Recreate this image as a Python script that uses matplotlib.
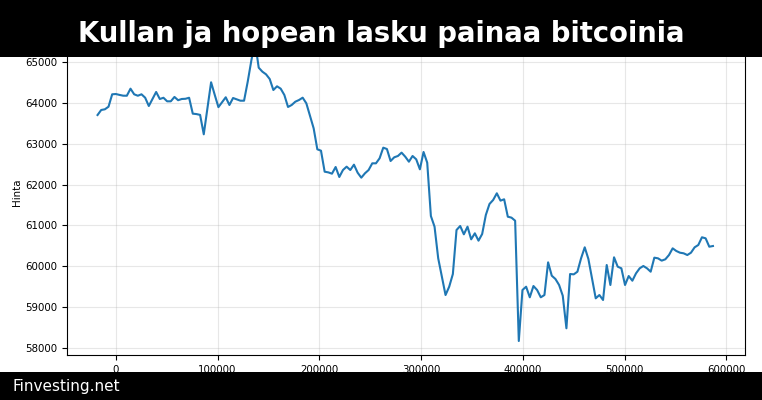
import matplotlib
matplotlib.use("Agg")
import matplotlib.pyplot as plt
from matplotlib.patches import Rectangle
import numpy as np

title = "Kullan ja hopean lasku painaa bitcoinia"
footer = "Finvesting.net"
ylabel = "Hinta"

x_start = -18000
x_step = 3600

prices = [
    63707, 63830, 63847, 63911, 64215, 64222, 64200, 64181, 64180, 64353,
    64215, 64180, 64215, 64132, 63928, 64100, 64272, 64100, 64130, 64043,
    64043, 64150, 64070, 64100, 64105, 64130, 63740, 63730, 63710, 63234,
    63870, 64510, 64200, 63900, 64019, 64142, 63953, 64124, 64092, 64058,
    64058, 64525, 65050, 65500, 64868, 64770, 64705, 64590, 64320, 64411,
    64353, 64198, 63904, 63953, 64034, 64075, 64132, 63994, 63690, 63380,
    62866, 62832, 62317, 62300, 62268, 62432, 62187, 62358, 62440, 62358,
    62489, 62293, 62170, 62277, 62358, 62522, 62522, 62645, 62906, 62873,
    62579, 62670, 62702, 62784, 62685, 62562, 62702, 62620, 62375, 62800,
    62538, 61230, 60968, 60192, 59741, 59292, 59496, 59807, 60887, 60985,
    60781, 60968, 60658, 60806, 60625, 60789, 61255, 61525, 61623, 61787,
    61607, 61640, 61213, 61190, 61115, 58164, 59415, 59496, 59236, 59513,
    59415, 59236, 59292, 60094, 59766, 59685, 59538, 59275, 58476, 59807,
    59799, 59864, 60192, 60462, 60175, 59700, 59211, 59292, 59170, 60028,
    59538, 60217, 59987, 59947, 59538, 59758, 59643, 59824, 59947, 60004,
    59947, 59864, 60208, 60192, 60135, 60168, 60273, 60437, 60372, 60330,
    60315, 60273, 60330, 60462, 60519, 60708, 60683, 60477, 60494,
]

x = x_start + x_step * np.arange(len(prices))

fig = plt.figure(figsize=(7.62, 4.0), dpi=100)
W, H = 762, 400
left, right, bottom_px, top_px = 66.7, 745, 355, 30
ax = fig.add_axes([left / W, (H - bottom_px) / H, (right - left) / W, (bottom_px - top_px) / H])
ax.plot(x, prices, color="#1f77b4", lw=1.5)
ax.set_xlim(-48300, 618300)
ax.set_ylim(57821, 65792)
ax.set_yticks(np.arange(58000, 65001, 1000))
ax.set_xticks(np.arange(0, 600001, 100000))
ax.grid(True, color="#b0b0b0", alpha=0.3, lw=0.8)
ax.tick_params(labelsize=7.4)
ax.set_ylabel(ylabel, fontsize=7.4)
ax.yaxis.set_label_coords(-0.066, 0.5)

fig.patches.append(Rectangle((0, 1 - 57 / H), 1, 57 / H, transform=fig.transFigure,
                             facecolor="black", edgecolor="none", zorder=10))
fig.patches.append(Rectangle((0, 0), 1, 28 / H, transform=fig.transFigure,
                             facecolor="black", edgecolor="none", zorder=10))
fig.text(0.5, 1 - 33.5 / H, title, color="white", fontsize=19.8, fontweight="bold",
         ha="center", va="center", zorder=11)
fig.text(12 / W, 1 - 386 / H, footer, color="white", fontsize=11,
         ha="left", va="center", zorder=11)

fig.savefig("out.png", dpi=100)
